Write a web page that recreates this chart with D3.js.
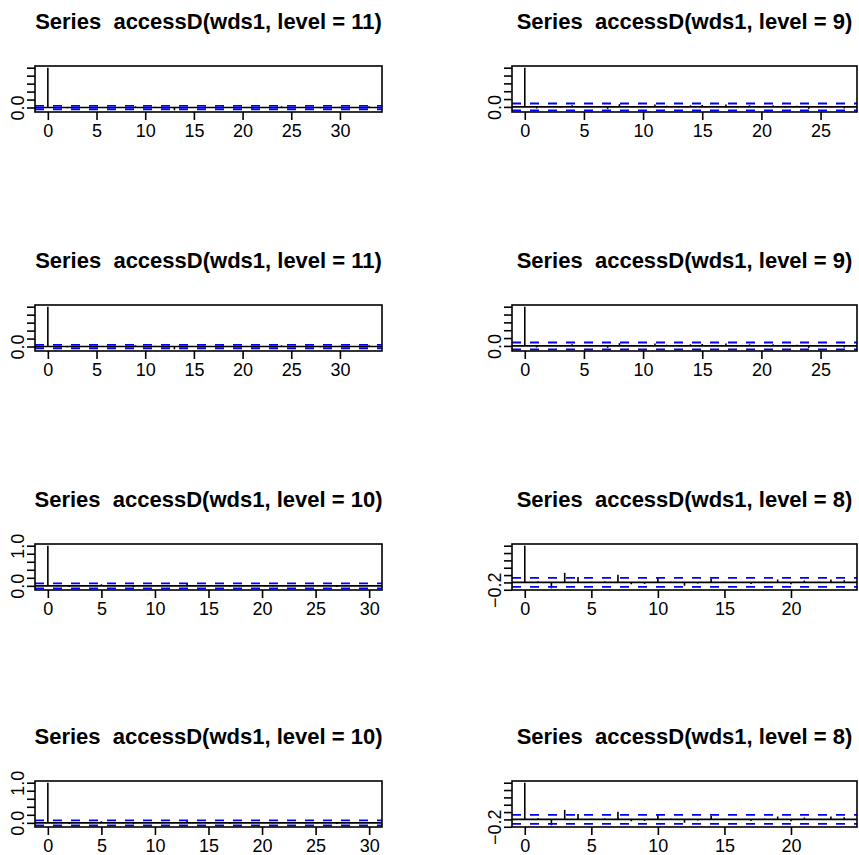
<!DOCTYPE html>
<html><head><meta charset="utf-8">
<script src="https://cdn.jsdelivr.net/npm/d3@7"></script>
<style>body{margin:0;background:#fff}svg{display:block}text{white-space:pre}</style>
</head><body>
<svg id="c" width="859" height="855"></svg>
<script>
// ---- data ----
const titles = ["Series  accessD(wds1, level = 11)", "Series  accessD(wds1, level = 9)",
                "Series  accessD(wds1, level = 10)", "Series  accessD(wds1, level = 8)"];
const clims = [0.0433, 0.0866, 0.0613, 0.1225];
const acfL11 = [1, 0.01, -0.02, 0.01, 0.00, 0.02, -0.01, 0.01, 0.00, 0.03, -0.01, 0.02, 0.01, -0.07,
  0.02, 0.00, -0.01, 0.01, 0.03, 0.00, 0.01, -0.02, 0.01, 0.02, 0.03, -0.01, 0.00, 0.01, -0.02, 0.01,
  0.02, 0.00, -0.01, 0.03];
const acfL9 = [1, -0.04, 0.01, -0.01, 0.04, 0.00, 0.01, -0.05, 0.07, 0.01, -0.01, 0.06, 0.03, -0.01,
  0.04, 0.05, 0.00, 0.06, -0.01, 0.04, 0.01, 0.04, -0.01, 0.03, -0.05, 0.01, 0.02, -0.04];
const acfL10 = [1, 0.01, -0.03, 0.01, 0.00, 0.04, 0.01, -0.01, -0.03, 0.02, 0.00, 0.01, 0.02, 0.07,
  0.01, -0.01, 0.00, -0.02, 0.01, 0.02, 0.00, -0.01, 0.01, 0.02, -0.01, 0.00, 0.01, -0.03, 0.02, 0.01, 0.00];
const acfL8 = [1, 0.03, -0.16, 0.26, 0.15, 0.02, 0.03, 0.21, -0.05, -0.04, 0.12, 0.02, -0.09, -0.03,
  0.10, 0.02, 0.01, -0.04, 0.02, 0.08, -0.05, 0.05, 0.01, 0.08, 0.06];
const yTicks = [0, 0.2, 0.4, 0.6, 0.8, 1.0];
const yTicksL8 = [-0.2, 0, 0.2, 0.4, 0.6, 0.8, 1.0];
const yLabelsL11 = ["0.0"];
const yLabelsL9 = ["0.0"];
const yLabelsL10 = ["0.0", "1.0"];
const yLabelsL8 = ["\u22120.2"];
const xTicks = [0, 5, 10, 15, 20, 25, 30];

// ---- panels (row-major, 4 x 2) ----
const P11 = {title: titles[0], acf: acfL11, clim: clims[0], ticks: yTicks, labels: yLabelsL11};
const P9  = {title: titles[1], acf: acfL9,  clim: clims[1], ticks: yTicks, labels: yLabelsL9};
const P10 = {title: titles[2], acf: acfL10, clim: clims[2], ticks: yTicks, labels: yLabelsL10};
const P8  = {title: titles[3], acf: acfL8,  clim: clims[3], ticks: yTicksL8, labels: yLabelsL8};
const panels = [P11, P9, P11, P9, P10, P8, P10, P8];

// ---- layout ----
const colX = [[35, 382], [512, 857]];
const rowTop = [66, 305, 544, 781];
const boxH = 46;
const svg = d3.select("#c");
const fmt = d => (d < 0 ? "\u2212" : "") + Math.abs(d).toFixed(1);
const font = "'Liberation Sans', Arial, Helvetica, sans-serif";

panels.forEach((p, i) => {
  const col = i % 2, row = Math.floor(i / 2);
  const x0 = colX[col][0], x1 = colX[col][1];
  const y0 = rowTop[row], y1 = y0 + boxH;
  const n = p.acf.length - 1;
  const xe = n * 0.04;
  const x = d3.scaleLinear().domain([-xe, n + xe]).range([x0, x1]);
  const lo = Math.min(d3.min(p.acf), -p.clim), hi = Math.max(d3.max(p.acf), p.clim);
  const ye = (hi - lo) * 0.04;
  const y = d3.scaleLinear().domain([lo - ye, hi + ye]).range([y1, y0]);
  const g = svg.append("g");

  // title
  g.append("text").attr("x", (x0 + x1) / 2).attr("y", y0 - 37)
    .attr("text-anchor", "middle").attr("font-family", font)
    .attr("font-weight", "bold").attr("font-size", 22).text(p.title);

  // clip for ablines
  const cid = "clip" + i;
  g.append("clipPath").attr("id", cid).append("rect")
    .attr("x", x0).attr("y", y0).attr("width", x1 - x0).attr("height", boxH);
  const inner = g.append("g").attr("clip-path", `url(#${cid})`);

  // bars
  inner.selectAll("line.bar").data(p.acf).join("line").attr("class", "bar")
    .attr("x1", (d, k) => x(k)).attr("x2", (d, k) => x(k))
    .attr("y1", y(0)).attr("y2", d => y(d))
    .attr("stroke", "#000").attr("stroke-width", 1.6);
  // zero line
  inner.append("line").attr("x1", x0).attr("x2", x1).attr("y1", y(0)).attr("y2", y(0))
    .attr("stroke", "#000").attr("stroke-width", 1.6);
  // confidence lines
  [p.clim, -p.clim].forEach(c => {
    inner.append("line").attr("x1", x0).attr("x2", x1).attr("y1", y(c)).attr("y2", y(c))
      .attr("stroke", "#0000ff").attr("stroke-width", 1.8).attr("stroke-dasharray", "9,9");
  });

  // x axis
  const xt = xTicks.filter(t => t <= n);
  const xa = g.append("g").attr("transform", `translate(0,${y1})`)
    .call(d3.axisBottom(x).tickValues(xt).tickSize(8).tickPadding(4).tickFormat(d3.format("d")));
  xa.select(".domain").remove();
  xa.selectAll("line").attr("stroke-width", 1.6);
  xa.selectAll("text").attr("font-family", font).attr("font-size", 18).attr("fill", "#000");

  // y axis
  const ya = g.append("g").attr("transform", `translate(${x0},0)`)
    .call(d3.axisLeft(y).tickValues(p.ticks).tickSize(8).tickPadding(3)
      .tickFormat(d => p.labels.includes(fmt(d)) ? fmt(d) : ""));
  ya.select(".domain").remove();
  ya.selectAll("line").attr("stroke-width", 1.6);
  ya.selectAll("text").attr("font-family", font).attr("font-size", 18).attr("fill", "#000")
    .attr("text-anchor", "middle").attr("dy", 0).attr("x", 0).attr("y", -11)
    .attr("transform", "rotate(-90)");

  // box
  g.append("rect").attr("x", x0).attr("y", y0).attr("width", x1 - x0).attr("height", boxH)
    .attr("fill", "none").attr("stroke", "#000").attr("stroke-width", 1.6);
});
</script>
</body></html>
